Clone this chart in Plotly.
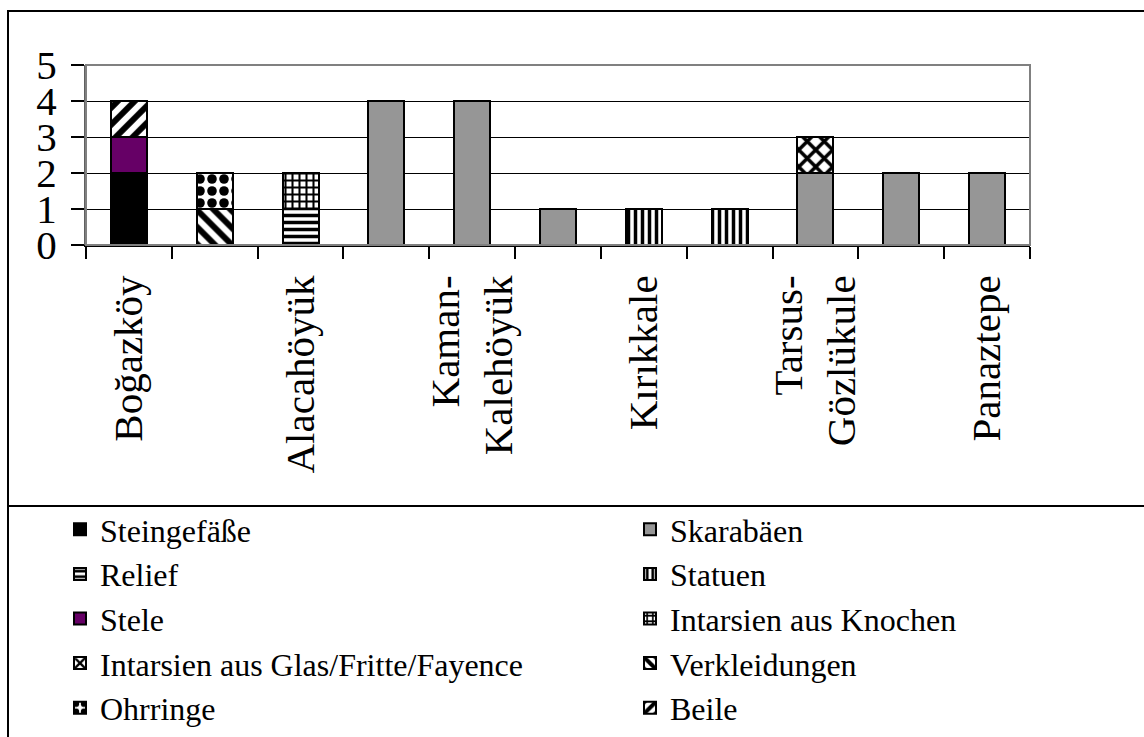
import plotly.graph_objects as go

# Fundorte (x positions 0..10); only every second site is labelled on the axis
site_labels = ["Boğazköy", "", "Alacahöyük", "", "Kaman-<br>Kalehöyük", "",
               "Kırıkkale", "", "Tarsus-<br>Gözlükule", "", "Panaztepe"]
positions = list(range(len(site_labels)))

# Anzahl der Funde je Gattung und Fundort
steingefaesse = [2, 0, 0, 0, 0, 0, 0, 0, 0, 0, 0]
skarabaeen    = [0, 0, 0, 4, 4, 1, 0, 0, 2, 2, 2]
relief        = [0, 0, 1, 0, 0, 0, 0, 0, 0, 0, 0]
statuen       = [0, 0, 0, 0, 0, 0, 1, 1, 0, 0, 0]
stele         = [1, 0, 0, 0, 0, 0, 0, 0, 0, 0, 0]
intarsien_knochen = [0, 0, 1, 0, 0, 0, 0, 0, 0, 0, 0]
intarsien_glas    = [0, 0, 0, 0, 0, 0, 0, 0, 1, 0, 0]
verkleidungen = [0, 1, 0, 0, 0, 0, 0, 0, 0, 0, 0]
ohrringe      = [0, 1, 0, 0, 0, 0, 0, 0, 0, 0, 0]
beile         = [1, 0, 0, 0, 0, 0, 0, 0, 0, 0, 0]

y_ticks = [0, 1, 2, 3, 4, 5]

FONT = "Times New Roman, Liberation Serif, DejaVu Serif, serif"

# name, values, fill colour, pattern shape, pattern size, legend column
series = [
    ("Steingefäße", steingefaesse, "#000000", "", 8, "legend"),
    ("Skarabäen", skarabaeen, "#969696", "", 8, "legend2"),
    ("Relief", relief, "#ffffff", "-", 7, "legend"),
    ("Statuen", statuen, "#ffffff", "|", 7, "legend2"),
    ("Stele", stele, "#660066", "", 8, "legend"),
    ("Intarsien aus Knochen", intarsien_knochen, "#ffffff", "+", 7, "legend2"),
    ("Intarsien aus Glas/Fritte/Fayence", intarsien_glas, "#ffffff", "x", 12, "legend"),
    ("Verkleidungen", verkleidungen, "#ffffff", "\\", 12, "legend2"),
    ("Ohrringe", ohrringe, "#ffffff", ".", 12, "legend"),
    ("Beile", beile, "#ffffff", "/", 12, "legend2"),
]

fig = go.Figure()
for name, vals, color, shape, psize, leg in series:
    marker = dict(color=color, line=dict(color="#000000", width=2))
    if shape:
        marker["pattern"] = dict(shape=shape, fgcolor="#000000", bgcolor="#ffffff",
                                 size=psize, solidity=0.5, fillmode="replace")
    fig.add_trace(go.Bar(
        x=positions,
        y=[v if v else None for v in vals],
        name=name,
        marker=marker,
        legend=leg,
        hoverinfo="skip",
    ))

W, H = 1144, 737
L, R, T, B = 86, 1030, 65, 245


def px_x(px):
    return (px - L) / (R - L)


def px_y(py):
    return (B - py) / (B - T)


shapes = [
    # outer frame and divider above the legend
    dict(type="rect", xref="paper", yref="paper",
         x0=px_x(8), x1=px_x(W + 10), y0=px_y(H + 10), y1=px_y(11),
         line=dict(color="#000000", width=2), layer="below"),
    dict(type="line", xref="paper", yref="paper",
         x0=px_x(8), x1=px_x(W + 10), y0=px_y(506), y1=px_y(506),
         line=dict(color="#000000", width=2)),
    # plot area border (grey)
    dict(type="rect", xref="paper", yref="paper", x0=0, x1=1, y0=0, y1=1,
         line=dict(color="#808080", width=2), layer="above"),
]

legend_common = dict(
    orientation="v",
    xref="container", yref="container",
    y=1 - 502 / H,
    xanchor="left", yanchor="top",
    traceorder="normal",
    font=dict(family=FONT, size=32, color="#000000"),
    bgcolor="rgba(0,0,0,0)",
    itemclick=False, itemdoubleclick=False,
)

fig.update_layout(
    width=W, height=H,
    margin=dict(l=L, r=W - R, t=T, b=H - B, autoexpand=False),
    paper_bgcolor="#ffffff",
    plot_bgcolor="#ffffff",
    barmode="stack",
    bargap=0.58,
    font=dict(family=FONT, color="#000000"),
    shapes=shapes,
    showlegend=True,
    legend=dict(x=60 / W, **legend_common),
    legend2=dict(x=630 / W, **legend_common),
    xaxis=dict(
        range=[-0.5, len(site_labels) - 0.5],
        tickmode="array", tickvals=positions, ticktext=site_labels,
        tickangle=-90,
        ticks="", ticklen=0,
        ticklabelstandoff=12,
        tickfont=dict(family=FONT, size=41, color="#000000"),
        showline=True, linecolor="#000000", linewidth=2,
        showgrid=False, zeroline=False,
        minor=dict(ticks="outside", tick0=-0.5, dtick=1, ticklen=12,
                   tickcolor="#000000", tickwidth=1.5, showgrid=False),
        fixedrange=True,
    ),
    yaxis=dict(
        range=[0, 5],
        tickmode="array", tickvals=y_ticks,
        ticks="outside", ticklen=13, tickcolor="#000000", tickwidth=1.5,
        ticklabelstandoff=6,
        tickfont=dict(family=FONT, size=41, color="#000000"),
        showline=True, linecolor="#606060", linewidth=2,
        showgrid=True, gridcolor="#000000", gridwidth=1,
        zeroline=False,
        fixedrange=True,
    ),
)

fig.write_html("out.html", config={"displayModeBar": False})
